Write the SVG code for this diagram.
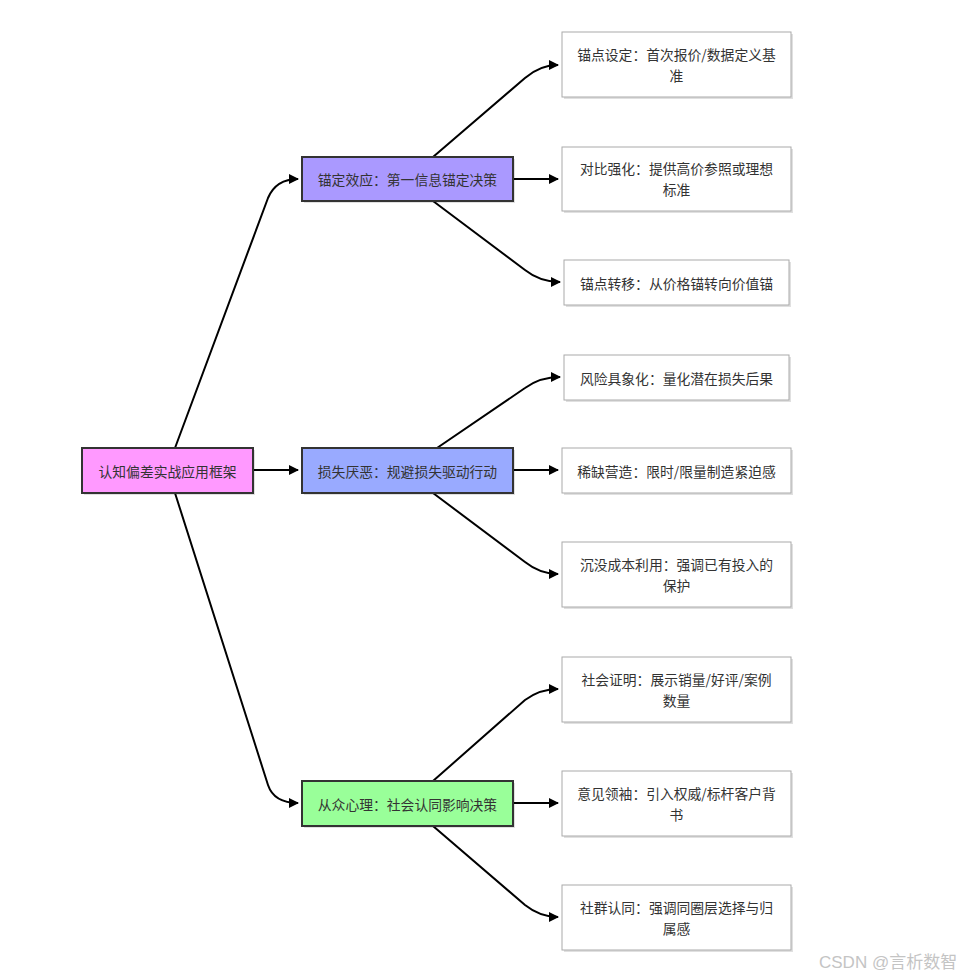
<svg xmlns="http://www.w3.org/2000/svg" width="969" height="979" viewBox="0 0 969 979">
<style>
text{font-family:"Noto Sans CJK SC","Liberation Sans",sans-serif;font-size:13.8px;fill:#333;text-anchor:middle;dominant-baseline:central}
.l1{stroke:#333;stroke-width:2}
.leaf{fill:#fff;stroke:#aaa;stroke-width:1}
.sh{fill:#000;opacity:0.12}
.c{fill:none;stroke:#000;stroke-width:2;marker-end:url(#ah)}
.wm{font-family:"Liberation Sans","Noto Sans CJK SC",sans-serif;font-size:17px;fill:#c4c4c4;text-anchor:start}
</style>
<defs>
<marker id="ah" viewBox="0 0 10 10" refX="9" refY="5" markerWidth="5" markerHeight="5" orient="auto" markerUnits="strokeWidth">
<path d="M0,0 L10,5 L0,10 z" fill="#000"/>
</marker>
</defs>
<rect width="969" height="979" fill="#fff"/>
<g id="connectors">
<path class="c" d="M175,448 L268,198 Q276,179 298,179"/>
<path class="c" d="M253,470 L298,470"/>
<path class="c" d="M175,493 L268,785 Q274,803 298,803"/>
<path class="c" d="M433,157 L525,78 Q540,65 558,65"/>
<path class="c" d="M513,179 L558,179"/>
<path class="c" d="M433,201 L525,270 Q540,282 560,282"/>
<path class="c" d="M437,448 L525,388 Q540,377 560,377"/>
<path class="c" d="M513,470 L558,470"/>
<path class="c" d="M433,493 L525,562 Q540,574 558,574"/>
<path class="c" d="M433,781 L525,700 Q540,689 558,689"/>
<path class="c" d="M513,803 L558,803"/>
<path class="c" d="M433,826 L525,905 Q540,917 558,917"/>
</g>
<g id="root">
<rect class="sh" x="84" y="450" width="171" height="45"/>
<rect class="l1" x="82" y="448" width="171" height="45" fill="#ff99ff"/>
<text x="167.5" y="470.5">认知偏差实战应用框架</text>
</g>
<g id="n1">
<rect class="sh" x="304" y="159" width="211" height="44"/>
<rect class="l1" x="302" y="157" width="211" height="44" fill="#aa99ff"/>
<text x="407.5" y="179">锚定效应：第一信息锚定决策</text>
</g>
<g id="n2">
<rect class="sh" x="304" y="450" width="211" height="45"/>
<rect class="l1" x="302" y="448" width="211" height="45" fill="#99aaff"/>
<text x="407.5" y="470.5">损失厌恶：规避损失驱动行动</text>
</g>
<g id="n3">
<rect class="sh" x="304" y="783" width="211" height="45"/>
<rect class="l1" x="302" y="781" width="211" height="45" fill="#99ff99"/>
<text x="407.5" y="803.5">从众心理：社会认同影响决策</text>
</g>
<g id="leaf1">
<rect class="sh" x="564" y="34" width="229" height="65"/>
<rect class="leaf" x="562" y="32" width="229" height="65"/>
<text x="676.5" y="54">锚点设定：首次报价/数据定义基</text>
<text x="676.5" y="75">准</text>
</g>
<g id="leaf2">
<rect class="sh" x="564" y="149" width="229" height="64"/>
<rect class="leaf" x="562" y="147" width="229" height="64"/>
<text x="676.5" y="168">对比强化：提供高价参照或理想</text>
<text x="676.5" y="189">标准</text>
</g>
<g id="leaf3">
<rect class="sh" x="566" y="262" width="225" height="45"/>
<rect class="leaf" x="564" y="260" width="225" height="45"/>
<text x="676.5" y="282.5">锚点转移：从价格锚转向价值锚</text>
</g>
<g id="leaf4">
<rect class="sh" x="566" y="357" width="225" height="45"/>
<rect class="leaf" x="564" y="355" width="225" height="45"/>
<text x="676.5" y="377.5">风险具象化：量化潜在损失后果</text>
</g>
<g id="leaf5">
<rect class="sh" x="564" y="450" width="229" height="45"/>
<rect class="leaf" x="562" y="448" width="229" height="45"/>
<text x="676.5" y="470.5">稀缺营造：限时/限量制造紧迫感</text>
</g>
<g id="leaf6">
<rect class="sh" x="564" y="544" width="229" height="65"/>
<rect class="leaf" x="562" y="542" width="229" height="65"/>
<text x="676.5" y="564">沉没成本利用：强调已有投入的</text>
<text x="676.5" y="585">保护</text>
</g>
<g id="leaf7">
<rect class="sh" x="564" y="659" width="229" height="65"/>
<rect class="leaf" x="562" y="657" width="229" height="65"/>
<text x="676.5" y="679">社会证明：展示销量/好评/案例</text>
<text x="676.5" y="700">数量</text>
</g>
<g id="leaf8">
<rect class="sh" x="564" y="773" width="229" height="65"/>
<rect class="leaf" x="562" y="771" width="229" height="65"/>
<text x="676.5" y="793">意见领袖：引入权威/标杆客户背</text>
<text x="676.5" y="814">书</text>
</g>
<g id="leaf9">
<rect class="sh" x="564" y="887" width="229" height="65"/>
<rect class="leaf" x="562" y="885" width="229" height="65"/>
<text x="676.5" y="907">社群认同：强调同圈层选择与归</text>
<text x="676.5" y="928">属感</text>
</g>
<text class="wm" x="819" y="968" style="dominant-baseline:auto">CSDN @言析数智</text>
</svg>
